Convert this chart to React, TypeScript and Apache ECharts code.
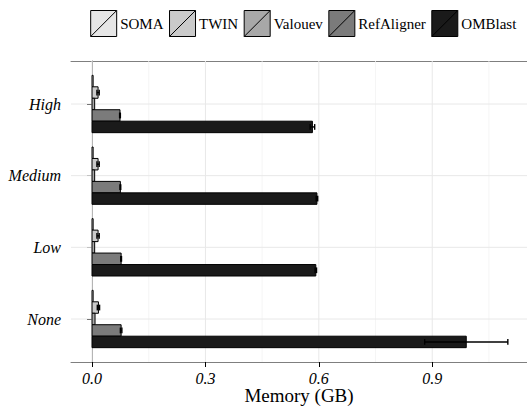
import React, { useEffect, useRef } from 'react';
import * as echarts from 'echarts';

const categories = ['None', 'Low', 'Medium', 'High'];
const methods = ['SOMA', 'TWIN', 'Valouev', 'RefAligner', 'OMBlast'];
const fills = ['#e6e6e6', '#cacaca', '#a8a8a8', '#7b7b7b', '#1a1a1a'];

const somaMem = [0.003, 0.003, 0.003, 0.003];
const somaErr = [0, 0, 0, 0];
const twinMem = [0.017, 0.016, 0.016, 0.016];
const twinErr = [0.003, 0.003, 0.003, 0.003];
const valouevMem = [0.008, 0.007, 0.007, 0.007];
const valouevErr = [0, 0, 0, 0];
const refAlignerMem = [0.077, 0.077, 0.075, 0.074];
const refAlignerErr = [0.002, 0.001, 0.001, 0.001];
const omblastMem = [0.99, 0.592, 0.595, 0.583];
const omblastErr = [0.11, 0.002, 0.002, 0.006];

const xTickValues = [0, 0.3, 0.6, 0.9];
const xMinorValues = [0.15, 0.45, 0.75, 1.05];
const yTickValues = [1, 2, 3, 4];

const memBySeries = [somaMem, twinMem, valouevMem, refAlignerMem, omblastMem];
const errBySeries = [somaErr, twinErr, valouevErr, refAlignerErr, omblastErr];

const FONT = "'Liberation Serif', 'DejaVu Serif', 'Times New Roman', serif";
const BAR = 0.16;
const offsets = [0.32, 0.16, 0, -0.16, -0.32];
const X_MIN = -0.0556;
const X_MAX = 1.1507;

export default function App() {
  const ref = useRef<HTMLDivElement>(null);
  useEffect(() => {
    document.body.style.margin = '0';
    document.body.style.overflow = 'hidden';
    const chart = echarts.init(ref.current!, null, { renderer: 'svg' });

    // legend layout
    const ctx = document.createElement('canvas').getContext('2d')!;
    ctx.font = `15px 'Liberation Serif', serif`;
    const box = 26;
    const boxGap = 3.5;
    const itemGap = 6;
    const widths = methods.map((m) => ctx.measureText(m).width);
    const total = widths.reduce((a, w) => a + box + boxGap + w, 0) + itemGap * (methods.length - 1);
    let lx = 303.5 - total / 2;
    const legendTop = 10.5;
    const legendEls: any[] = [];
    methods.forEach((m, i) => {
      legendEls.push({
        type: 'rect',
        shape: { x: lx, y: legendTop, width: box, height: box },
        style: { fill: fills[i], stroke: '#000', lineWidth: 1 },
      });
      legendEls.push({
        type: 'line',
        shape: { x1: lx, y1: legendTop + box, x2: lx + box, y2: legendTop },
        style: { stroke: '#000', lineWidth: 1 },
      });
      legendEls.push({
        type: 'text',
        x: lx + box + boxGap,
        y: legendTop + box / 2,
        style: {
          text: m,
          font: "15px 'Liberation Serif', serif",
          fontSize: 15,
          fontFamily: FONT,
          fill: '#000',
          verticalAlign: 'middle',
          align: 'left',
        },
      });
      lx += box + boxGap + widths[i] + itemGap;
    });

    const barSeries = methods.map((m, si) => ({
      type: 'custom',
      name: m,
      z: 3,
      encode: { x: 1, y: 0 },
      data: categories.map((_, k) => [k + 1, memBySeries[si][k], errBySeries[si][k]]),
      renderItem: (params: any, api: any) => {
        const yc = api.value(0) + offsets[si];
        const v = api.value(1);
        const e = api.value(2);
        const p0 = api.coord([0, yc]);
        const p1 = api.coord([v, yc]);
        const h = api.size([0, BAR])[1];
        const children: any[] = [
          {
            type: 'rect',
            shape: { x: p0[0], y: p0[1] - h / 2, width: p1[0] - p0[0], height: h },
            style: { fill: fills[si], stroke: '#000', lineWidth: 1 },
          },
        ];
        if (e > 0) {
          const lo = api.coord([v - e, yc]);
          const hi = api.coord([v + e, yc]);
          const wh = api.size([0, 0.08])[1] / 2;
          const st = { stroke: '#000', lineWidth: 1.4 };
          children.push({ type: 'line', shape: { x1: lo[0], y1: lo[1], x2: hi[0], y2: hi[1] }, style: st });
          children.push({ type: 'line', shape: { x1: lo[0], y1: lo[1] - wh, x2: lo[0], y2: lo[1] + wh }, style: st });
          children.push({ type: 'line', shape: { x1: hi[0], y1: hi[1] - wh, x2: hi[0], y2: hi[1] + wh }, style: st });
        }
        return { type: 'group', children };
      },
    }));

    const vGrid = {
      type: 'custom',
      z: 1,
      silent: true,
      encode: { x: 0, y: 1 },
      data: [...xTickValues.map((x) => [x, 1, 1]), ...xMinorValues.map((x) => [x, 1, 0])],
      renderItem: (params: any, api: any) => {
        const p = api.coord([api.value(0), api.value(1)]);
        const cs = params.coordSys;
        return {
          type: 'line',
          shape: { x1: p[0], y1: cs.y, x2: p[0], y2: cs.y + cs.height },
          style: { stroke: api.value(2) ? '#e8e8e8' : '#f3f3f3', lineWidth: api.value(2) ? 1 : 0.8 },
        };
      },
    };
    const hGrid = {
      type: 'custom',
      z: 1,
      silent: true,
      encode: { x: 1, y: 0 },
      data: yTickValues.map((y) => [y, 0]),
      renderItem: (params: any, api: any) => {
        const p = api.coord([api.value(1), api.value(0)]);
        const cs = params.coordSys;
        return {
          type: 'line',
          shape: { x1: cs.x, y1: p[1], x2: cs.x + cs.width, y2: p[1] },
          style: { stroke: '#e8e8e8', lineWidth: 1 },
        };
      },
    };

    const borderLine = { show: true, lineStyle: { color: '#7f7f7f', width: 1 } };

    chart.setOption({
      animation: false,
      textStyle: { fontFamily: FONT },
      grid: {
        left: 71,
        top: 61,
        right: 0,
        height: 301,
        containLabel: false,
        outerBoundsMode: 'none',
      },
      xAxis: [
        {
          type: 'value',
          min: X_MIN,
          max: X_MAX,
          splitLine: { show: false },
          axisLine: borderLine,
          axisTick: { show: true, customValues: xTickValues, length: 5, lineStyle: { color: '#000', width: 1 } },
          axisLabel: {
            customValues: xTickValues,
            formatter: (v: number) => v.toFixed(1),
            fontStyle: 'italic',
            fontSize: 16,
            color: '#000',
            fontFamily: FONT,
            margin: 8,
          },
          name: 'Memory (GB)',
          nameLocation: 'middle',
          nameGap: 24,
          nameMoveOverlap: false,
          nameTextStyle: { fontSize: 19, color: '#000', fontFamily: FONT, verticalAlign: 'top' },
        },
        {
          type: 'value',
          position: 'top',
          min: X_MIN,
          max: X_MAX,
          splitLine: { show: false },
          axisLine: borderLine,
          axisTick: { show: false },
          axisLabel: { show: false },
        },
      ],
      yAxis: {
        type: 'value',
        min: 0.4,
        max: 4.6,
        splitLine: { show: false },
        axisLine: borderLine,
        axisTick: { show: true, customValues: yTickValues, length: 5, lineStyle: { color: '#000', width: 1 } },
        axisLabel: {
          customValues: yTickValues,
          formatter: (v: number) => categories[Math.round(v) - 1] ?? '',
          fontStyle: 'italic',
          fontSize: 16,
          color: '#000',
          fontFamily: FONT,
          margin: 10,
        },
      },
      graphic: legendEls,
      series: [vGrid, hGrid, ...barSeries],
    });
    return () => chart.dispose();
  }, []);
  return <div ref={ref} style={{ width: 527, height: 408 }} />;
}
